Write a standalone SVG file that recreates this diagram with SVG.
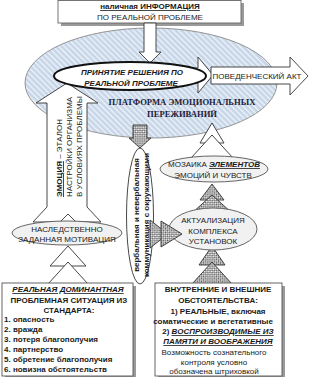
<svg xmlns="http://www.w3.org/2000/svg" width="309" height="377" viewBox="0 0 309 377">
<style>
.t{font-family:"Liberation Sans",Arial,sans-serif;fill:#1a1a1a;font-size:8px}
.s{font-family:"Liberation Serif","Times New Roman",serif;font-weight:bold;fill:#1c1c3c;font-size:8.6px}
.b{font-weight:bold}
.i{font-style:italic}
.u{text-decoration:underline}
.w{fill:#fff;stroke:#333;stroke-width:0.9}
.g{fill:#f1f1f1;stroke:#555;stroke-width:0.9}
.c{fill:url(#chk);stroke:#333;stroke-width:0.9}
.sh{fill:#9a9a9a}
</style>
<defs>
<pattern id="hatch" width="4" height="4" patternUnits="userSpaceOnUse" patternTransform="rotate(-45)">
<rect width="4" height="4" fill="#c6d5e7"/>
<rect width="1.4" height="4" fill="#eef3f9"/>
</pattern>
<pattern id="chk" width="3" height="3" patternUnits="userSpaceOnUse" patternTransform="rotate(45)">
<rect width="3" height="3" fill="#fff"/>
<rect width="1.5" height="1.5" fill="#555"/>
<rect x="1.5" y="1.5" width="1.5" height="1.5" fill="#555"/>
</pattern>
</defs>

<g id="info">
<rect class="sh" x="61" y="3" width="183" height="23"/>
<rect x="58" y="0.5" width="183" height="22.5" fill="#fff" stroke="#666" stroke-width="0.9"/>
<text class="t b u" x="150" y="9" text-anchor="middle">наличная ИНФОРМАЦИЯ</text>
<text class="t" x="150" y="19.5" text-anchor="middle">ПО РЕАЛЬНОЙ ПРОБЛЕМЕ</text>
</g>

<g id="platform">
<ellipse cx="151" cy="83" rx="126" ry="55" fill="url(#hatch)" stroke="#8a8a8a" stroke-width="0.9"/>
<text class="s" x="182" y="105" text-anchor="middle">ПЛАТФОРМА ЭМОЦИОНАЛЬНЫХ</text>
<text class="s" x="182" y="117" text-anchor="middle">ПЕРЕЖИВАНИЙ</text>
</g>

<g id="connectors">
<polygon class="w" points="144,23 156,23 156,52 161,52 150,63 139,52 144,52"/>
<polygon class="w" points="190,68 198,68 198,57 213,75 198,93 198,83 190,83"/>
<polygon class="w" points="211,67 290,67 290,57 308,76 290,95 290,84 211,84"/>
<polygon class="w" points="67,83 98,103 87,103 87,207 101,222 33,222 47,207 47,103 36,103"/>
<polygon class="c" points="133,125 147,125 147,138 151,138 140,148 129,138 133,138"/>
<polygon class="w" points="212,123 224,143 200,143"/>
<polygon class="w" points="212,135 233,158 191,158"/>
<polygon class="c" points="212,184 224,200 200,200"/>
<polygon class="c" points="212,195 232,213 192,213"/>
<polygon class="c" points="212,246 225,265 199,265"/>
<polygon class="c" points="212,262 232,284 192,284"/>
<polygon class="w" points="68,214 90,236 46,236"/>
<polygon class="w" points="68,246 86,266 50,266"/>
<polygon class="w" points="68,262 88,284 48,284"/>
</g>

<g id="decision">
<ellipse cx="130" cy="76" rx="76" ry="14" fill="#fff" stroke="#111" stroke-width="2"/>
<text class="t b i" x="132" y="75" text-anchor="middle" font-size="10">ПРИНЯТИЕ РЕШЕНИЯ ПО</text>
<text class="t b i" x="131" y="86" text-anchor="middle" font-size="10">РЕАЛЬНОЙ ПРОБЛЕМЕ</text>
</g>

<g id="behavior">
<text class="t" x="257" y="79" text-anchor="middle" font-size="8.2">ПОВЕДЕНЧЕСКИЙ АКТ</text>
</g>

<g id="emotion">
<text class="t" transform="translate(62,197) rotate(-90)" font-size="8.2"><tspan class="b u">ЭМОЦИЯ</tspan> – ЭТАЛОН</text>
<text class="t" transform="translate(72,197) rotate(-90)" font-size="8.2">НАСТРОЙКИ ОРГАНИЗМА</text>
<text class="t" transform="translate(82,197) rotate(-90)" font-size="8.2">В УСЛОВИЯХ ПРОБЛЕМЫ</text>
</g>

<g id="motivation">
<ellipse class="g" cx="67" cy="233" rx="55" ry="12"/>
<text class="t" x="67" y="231.5" text-anchor="middle" font-size="8.4">НАСЛЕДСТВЕННО</text>
<text class="t" x="67" y="242" text-anchor="middle" font-size="8.4">ЗАДАННАЯ МОТИВАЦИЯ</text>
</g>

<g id="communication">
<ellipse class="w" cx="140" cy="216" rx="13.5" ry="68"/>
<text class="t b" transform="translate(138.5,215) rotate(-90)" text-anchor="middle" font-size="8">вербальная и невербальная</text>
<text class="t b" transform="translate(148.5,215) rotate(-90)" text-anchor="middle" font-size="8">коммуникация с окружающими</text>
</g>

<g id="mosaic">
<ellipse class="g" cx="214" cy="169" rx="54" ry="13"/>
<text class="t" x="214" y="167" text-anchor="middle" font-size="8.4">МОЗАИКА <tspan class="b i u">ЭЛЕМЕНТОВ</tspan></text>
<text class="t" x="213" y="178" text-anchor="middle" font-size="8.4">ЭМОЦИЙ И ЧУВСТВ</text>
</g>

<g id="actualization">
<ellipse class="g" cx="213" cy="229" rx="44" ry="21"/>
<text class="t" x="213" y="223" text-anchor="middle" font-size="8.5">АКТУАЛИЗАЦИЯ</text>
<text class="t" x="213" y="233.5" text-anchor="middle" font-size="8.5">КОМПЛЕКСА</text>
<text class="t" x="213" y="244" text-anchor="middle" font-size="8.5">УСТАНОВОК</text>
</g>

<g id="comm-arrow">
<polygon class="c" points="150,220 168,234 150,248"/>
<polygon class="c" points="161,221 182,234 161,247"/>
</g>

<g id="situation">
<rect class="sh" x="5" y="286" width="131" height="93"/>
<rect x="2" y="283" width="131" height="93" fill="#fff" stroke="#555" stroke-width="0.9"/>
<text class="t b i u" x="68" y="292" text-anchor="middle" font-size="8.4">РЕАЛЬНАЯ ДОМИНАНТНАЯ</text>
<text class="t b" x="69" y="302.5" text-anchor="middle" font-size="8.2">ПРОБЛЕМНАЯ СИТУАЦИЯ ИЗ</text>
<text class="t b" x="69" y="313" text-anchor="middle" font-size="8.2">СТАНДАРТА:</text>
<text class="t b" x="4" y="322" font-size="8.2">1. опасность</text>
<text class="t b" x="4" y="332" font-size="8.2">2. вражда</text>
<text class="t b" x="4" y="342" font-size="8.2">3. потеря благополучия</text>
<text class="t b" x="4" y="352" font-size="8.2">4. партнерство</text>
<text class="t b" x="4" y="362" font-size="8.2">5. обретение благополучия</text>
<text class="t b" x="4" y="372" font-size="8.2">6. новизна обстоятельств</text>
</g>

<g id="circumstances">
<rect class="sh" x="158" y="286" width="127" height="93"/>
<rect x="155" y="283" width="127" height="93" fill="#fff" stroke="#555" stroke-width="0.9"/>
<text class="t b" x="218" y="292" text-anchor="middle" font-size="7.6">ВНУТРЕННИЕ И ВНЕШНИЕ</text>
<text class="t b" x="218" y="303" text-anchor="middle" font-size="7.6">ОБСТОЯТЕЛЬСТВА:</text>
<text class="t b" x="218" y="314" text-anchor="middle" font-size="7.6">1) РЕАЛЬНЫЕ, включая</text>
<text class="t b" x="213" y="324" text-anchor="middle" font-size="7.9">соматические и вегетативные</text>
<text class="t b" x="218" y="334" text-anchor="middle" font-size="7.9">2) <tspan class="i u">ВОСПРОИЗВОДИМЫЕ ИЗ</tspan></text>
<text class="t b i u" x="218" y="344" text-anchor="middle" font-size="7.9">ПАМЯТИ И ВООБРАЖЕНИЯ</text>
<text class="t" x="214" y="355" text-anchor="middle" font-size="7.7">Возможность сознательного</text>
<text class="t" x="214" y="365" text-anchor="middle" font-size="7.7">контроля условно</text>
<text class="t" x="214" y="374" text-anchor="middle" font-size="7.7">обозначена штриховкой</text>
</g>
</svg>
